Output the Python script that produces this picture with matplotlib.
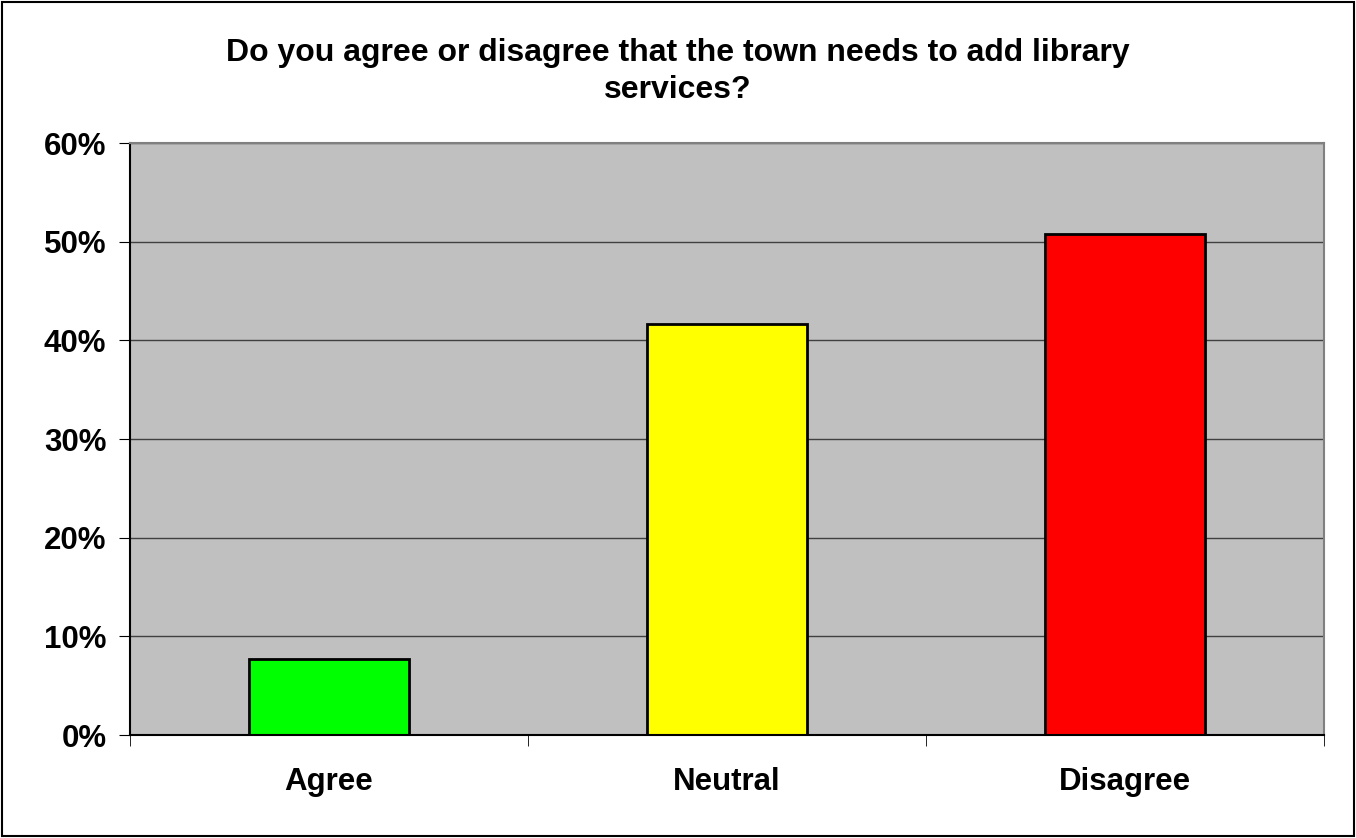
import matplotlib
matplotlib.use('Agg')
import matplotlib.pyplot as plt
from matplotlib.ticker import FixedLocator, PercentFormatter
from matplotlib.patches import Rectangle

categories = ['Agree', 'Neutral', 'Disagree']
values = [7.7, 41.7, 50.8]
colors = ['#00FF00', '#FFFF00', '#FF0000']
yticks = [0, 10, 20, 30, 40, 50, 60]

plt.rcParams['font.family'] = ['Liberation Sans', 'DejaVu Sans']

fig = plt.figure(figsize=(13.56, 8.38), dpi=100)
ax = fig.add_axes([130/1356, 103/838, 1194/1356, 592/838])

# outer frame of the chart
fig.patches.append(Rectangle((0.0015, 0.0025), 0.997, 0.995, transform=fig.transFigure,
                             fill=False, edgecolor='black', linewidth=1.5))

ax.set_facecolor('#C0C0C0')
ax.set_axisbelow(True)
ax.yaxis.grid(True, color='#404040', linewidth=1)

x = range(len(categories))
ax.bar(x, values, width=0.4, color=colors, edgecolor='black', linewidth=2)

ax.set_xlim(-0.5, 2.5)
ax.set_ylim(0, 60)
ax.set_yticks(yticks)
ax.yaxis.set_major_formatter(PercentFormatter(decimals=0))
ax.set_xticks(list(x))
ax.set_xticklabels(categories)
ax.xaxis.set_minor_locator(FixedLocator([-0.5, 0.5, 1.5, 2.5]))
ax.tick_params(axis='x', which='major', length=0, pad=23)
ax.tick_params(axis='x', which='minor', length=8, color='black')
ax.tick_params(axis='y', length=8, color='black', pad=9)
for lab in ax.get_xticklabels() + ax.get_yticklabels():
    lab.set_fontsize(22.5)
    lab.set_fontweight('bold')

ax.spines['left'].set_color('black')
ax.spines['bottom'].set_color('black')
ax.spines['top'].set_color('#808080')
ax.spines['right'].set_color('#808080')
for s in ax.spines.values():
    s.set_linewidth(1.5)

fig.text(0.5, 0.915, 'Do you agree or disagree that the town needs to add library\nservices?',
         ha='center', va='center', fontsize=23, fontweight='bold', linespacing=1.3)

fig.savefig('out.png', dpi=100)
